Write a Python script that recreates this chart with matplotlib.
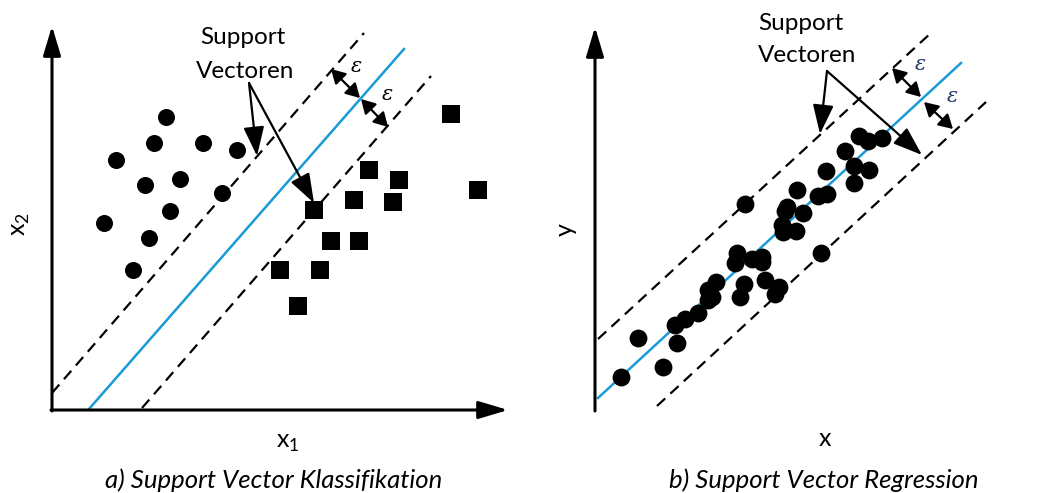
import numpy as np
import matplotlib.pyplot as plt

plt.rcParams['font.family'] = ['Lato', 'DejaVu Sans']
plt.rcParams['mathtext.fontset'] = 'custom'
plt.rcParams['mathtext.rm'] = 'Lato'

BLUE = '#1a9ad6'
EPS_BLUE = '#1f3a6e'

# figure drawn in pixel coordinates (y down)
# a) classification
circles_x = [166, 154, 203, 237, 116, 145, 180, 222, 170, 104, 149, 133]
circles_y = [117, 143, 143, 150, 160, 185, 179, 193, 211, 223, 238, 270]
squares_x = [451, 369, 399, 478, 354, 393, 314, 331, 359, 280, 320, 298]
squares_y = [114, 170, 180, 190, 200, 202, 210, 241, 241, 270, 270, 306]
cls_mid = [(89, 409), (404, 49)]
cls_upper = [(52, 393), (364, 33)]
cls_lower = [(142, 408), (431, 76)]

# b) regression
reg_x = [621, 638, 663, 677, 675, 685, 698, 708, 712, 708, 716, 740, 744, 735,
         737, 752, 762, 762, 765, 775, 779, 745, 782, 783, 785, 787, 796, 803,
         797, 818, 827, 821, 826, 845, 854, 854, 869, 859, 868, 882]
reg_y = [377, 338, 367, 343, 325, 319, 313, 300, 297, 290, 282, 297, 284, 263,
         253, 259, 257, 262, 280, 294, 287, 204, 225, 232, 211, 207, 231, 213,
         190, 196, 194, 253, 171, 151, 166, 183, 170, 136, 141, 138]
reg_mid = [(598, 398), (961, 63)]
reg_upper = [(598, 339), (932, 32)]
reg_lower = [(657, 406), (986, 102)]

fig = plt.figure(figsize=(10.44, 4.93), dpi=100)
ax = fig.add_axes([0, 0, 1, 1])
ax.set_xlim(0, 1044)
ax.set_ylim(493, 0)
ax.axis('off')


def arrow(p0, p1, style='-|>,head_length=0.9,head_width=0.27', lw=2.2, ms=20, color='black'):
    ax.annotate('', xy=p1, xytext=p0,
                arrowprops=dict(arrowstyle=style, lw=lw, color=color,
                                mutation_scale=ms, shrinkA=0, shrinkB=0))


def seg(pts, **kw):
    (x0, y0), (x1, y1) = pts
    ax.plot([x0, x1], [y0, y1], **kw)


dash = dict(color='black', lw=1.6, linestyle=(0, (5, 3.2)), solid_capstyle='butt')
sv_style = '-|>,head_length=0.9,head_width=0.32'
eps_style = '<|-|>,head_length=0.42,head_width=0.24'
eps_font = dict(ha='center', va='center', fontsize=15, family='DejaVu Serif', style='italic')

# ---- panel a ----
arrow((52, 411), (52, 26))
arrow((51, 410), (508, 410))
seg(cls_mid, color=BLUE, lw=1.8)
seg(cls_upper, **dash)
seg(cls_lower, **dash)
ax.scatter(circles_x, circles_y, s=150, c='black', marker='o', lw=0, zorder=3)
ax.scatter(squares_x, squares_y, s=150, c='black', marker='s', lw=0, zorder=3)
ax.text(243, 38, 'Support', ha='center', va='center', fontsize=17.5)
ax.text(245, 71, 'Vectoren', ha='center', va='center', fontsize=17.5)
arrow((249, 83), (257, 156), style=sv_style, lw=1.6)
arrow((249, 83), (314, 203), style=sv_style, lw=1.6)
arrow((331, 69), (360, 98), style=eps_style, lw=1.6)
arrow((361, 99), (388, 127), style=eps_style, lw=1.6)
ax.text(356, 66, 'ε', **eps_font)
ax.text(387, 94, 'ε', **eps_font)
ax.text(20, 224, r'$\mathrm{x}_\mathrm{2}$', ha='center', va='center',
        fontsize=18, rotation=90)
ax.text(288, 443, r'$\mathrm{x}_\mathrm{1}$', ha='center', va='center', fontsize=18)
ax.text(274, 480, 'a) Support Vector Klassifikation', ha='center', va='center',
        fontsize=18.5, style='italic')

# ---- panel b ----
arrow((595, 411), (595, 27))
arrow((594, 410), (1048, 410))
seg(reg_mid, color=BLUE, lw=1.8)
seg(reg_upper, **dash)
seg(reg_lower, **dash)
ax.scatter(reg_x, reg_y, s=165, c='black', marker='o', lw=0, zorder=3)
ax.text(758, 23, 'Support', ha='left', va='center', fontsize=17.5)
ax.text(758, 55, 'Vectoren', ha='left', va='center', fontsize=17.5)
arrow((827, 71), (820, 134), style=sv_style, lw=1.6)
arrow((827, 71), (922, 155), style=sv_style, lw=1.6)
arrow((892, 68), (921, 97), style=eps_style, lw=1.6)
arrow((924, 102), (953, 129), style=eps_style, lw=1.6)
ax.text(920, 65, 'ε', color=EPS_BLUE, **eps_font)
ax.text(952, 97, 'ε', color=EPS_BLUE, **eps_font)
ax.text(565, 230, 'y', ha='center', va='center', fontsize=18, rotation=90)
ax.text(825, 439, 'x', ha='center', va='center', fontsize=18)
ax.text(824, 480, 'b) Support Vector Regression', ha='center', va='center',
        fontsize=18.5, style='italic')

fig.savefig('out.png', dpi=100)
